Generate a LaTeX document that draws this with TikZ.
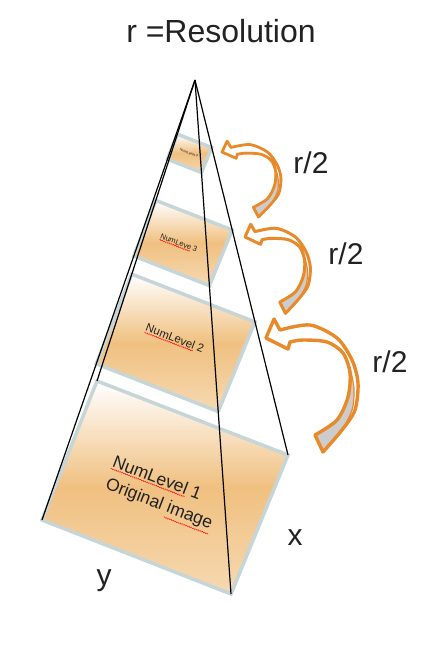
\documentclass[tikz,border=0pt]{standalone}
\usepackage{fontspec}
\setmainfont{Liberation Sans}
\usetikzlibrary{calc,decorations.pathmorphing}
\definecolor{orangeA}{HTML}{F0C080}
\definecolor{orangeB}{HTML}{F6D9B2}
\definecolor{rimcol}{HTML}{C5D5D8}
\definecolor{arrowor}{HTML}{E8892A}
\definecolor{arrowgray}{HTML}{CCCCCC}
\definecolor{txt}{HTML}{222222}
\tikzset{
  levelface/.style={shading angle=35, top color=white, bottom color=orangeB, middle color=orangeA,
                    draw=rimcol, line width=3.5pt, line join=miter},
  pyr/.style={black, line width=1.2pt},
  lab/.style={font=\fontsize{30}{36}\selectfont, inner sep=0pt, text=txt},
  lvltext/.style={inner sep=0pt, rotate=-21, text=txt},
  wave/.style={red, line width=0.4pt, decorate, decoration={snake, amplitude=0.55pt, segment length=2.4pt}},
}
% red wavy underline below part of a rotated one-line text node
\newcommand\squig[4]{%
  \path ($(#1.base west)!#2!(#1.base east)$) coordinate (sqa)
        ($(#1.base west)!#3!(#1.base east)$) coordinate (sqb);
  \draw[wave] ($(sqa)!#4!-90:(sqb)$) -- ($(sqb)!#4!90:(sqa)$);}
\newcommand\bentarrow[5]{%
\begin{scope}[shift={(#1,#2)}, xscale=#3, yscale=#4]
  \fill[white] (0,0) -- (8,-19) -- (14,-8)
    -- plot[smooth] coordinates {(14,-8) (44,-13) (71,0) (86,22) (92,45) (89,72) (76,92) (57,114)}
    -- (49,97)
    -- plot[smooth] coordinates {(49,97) (71,82) (82,59) (84,35) (77,15) (61,4) (37,2) (24,4)}
    -- (22,11) -- cycle;
  \filldraw[fill=arrowgray, draw=arrowor, line width=1.2pt]
    plot[smooth] coordinates {(84,30) (88,50) (86,72) (74,95) (57,114)}
    -- (49,97)
    -- plot[smooth] coordinates {(49,97) (71,82) (82,59) (84,30)} -- cycle;
  \draw[arrowor, line width=#5, line join=round] (0,0) -- (8,-19) -- (14,-8)
    -- plot[smooth] coordinates {(14,-8) (44,-13) (71,0) (86,22) (92,45) (89,72) (76,92) (57,114)}
    -- (49,97)
    -- plot[smooth] coordinates {(49,97) (71,82) (82,59) (84,35) (77,15) (61,4) (37,2) (24,4)}
    -- (22,11) -- cycle;
\end{scope}}
\begin{document}
\begin{tikzpicture}[x=1pt,y=-1pt]
\useasboundingbox (0,0) rectangle (444,646);
\coordinate (apex) at (195,80);
\coordinate (tl1) at (97,381);
\coordinate (r1) at (288,455);
\coordinate (b1) at (231,594);
\coordinate (l1) at (42,520);
\foreach \n/\t in {2/0.645,3/0.40,4/0.18}{
  \coordinate (tl\n) at ($(apex)!\t!(tl1)$);
  \coordinate (r\n) at ($(apex)!\t!(r1)$);
  \coordinate (b\n) at ($(apex)!\t!(b1)$);
  \coordinate (l\n) at ($(apex)!\t!(l1)$);
}
\foreach \n in {1,...,4}{
  \shadedraw[levelface] (tl\n) -- (r\n) -- (b\n) -- (l\n) -- cycle;
}
\node[lvltext, font=\fontsize{17.5}{21}\selectfont] (txt1a) at (157.5,477.5) {NumLevel 1};
\node[lvltext, font=\fontsize{17.5}{21}\selectfont] (txt1b) at (159,504.5) {Original image};
\node[lvltext, font=\fontsize{11.5}{14}\selectfont] (txt2) at (175,338) {NumLevel 2};
\node[lvltext, font=\fontsize{7.6}{9}\selectfont] (txt3) at (179,243) {NumLeve 3};
\node[lvltext, font=\fontsize{3.6}{4}\selectfont] (txt4) at (189,153) {NumLevel 4};
\squig{txt1a}{0}{0.844}{2pt}
\squig{txt1b}{0.578}{1}{5.5pt}
\squig{txt2}{0}{0.844}{1.6pt}
\squig{txt3}{0}{0.837}{1.2pt}
\draw[pyr] (apex) -- (l1);
\draw[pyr] (apex) -- (tl1);
\draw[pyr] (apex) -- (b1);
\draw[pyr] (apex) -- (r1);
\bentarrow{222}{152}{0.64}{0.57}{2.8pt}
\bentarrow{245}{237}{0.71}{0.67}{3pt}
\bentarrow{266}{338}{1}{1}{3.4pt}
\node[lab, font=\fontsize{32}{38}\selectfont] (title) at (221,31) {r =Resolution};
\node[lab] (half1) at (311,163) {r/2};
\node[lab] (half2) at (346,254) {r/2};
\node[lab] (half3) at (390,362) {r/2};
\node[lab] (xlab) at (295,538) {x};
\node[lab] (ylab) at (104,581) {y};
\end{tikzpicture}
\end{document}
